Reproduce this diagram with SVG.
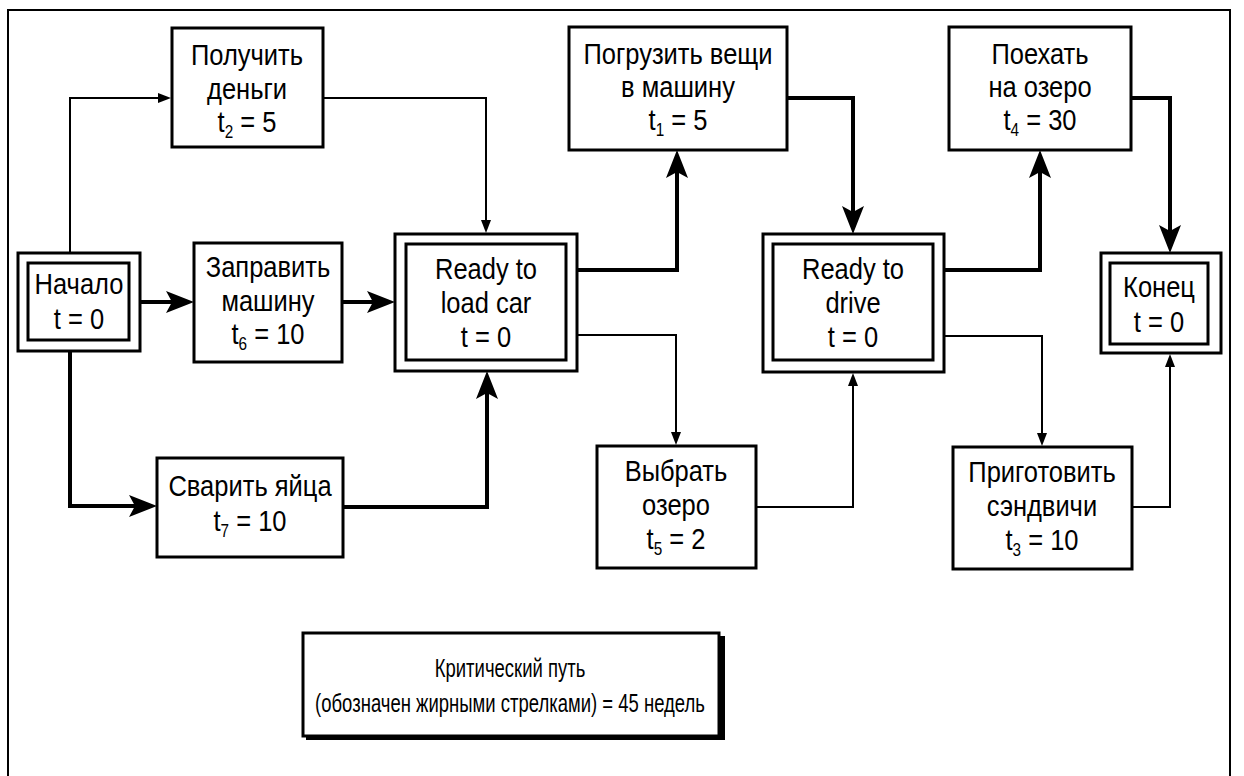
<svg xmlns="http://www.w3.org/2000/svg" width="1244" height="776" viewBox="0 0 1244 776">
  <style>
    .box { fill: #fff; stroke: #000; stroke-width: 3; }
    .frame { fill: none; stroke: #000; stroke-width: 2; }
    .lbl { font-family: "Liberation Sans", "DejaVu Sans", sans-serif; font-size: 30px; fill: #000; text-anchor: middle; }
    .note { font-size: 25px; }
    .sub { font-size: 18px; }
    .thick { fill: none; stroke: #000; stroke-width: 4; }
    .thin { fill: none; stroke: #000; stroke-width: 2; }
  </style>
  <defs>
    <marker id="big" markerUnits="userSpaceOnUse" markerWidth="30" markerHeight="24" refX="20" refY="12" orient="auto">
      <path d="M0,1 L28,12 L0,23 L6,12 z" fill="#000"/>
    </marker>
    <marker id="small" markerUnits="userSpaceOnUse" markerWidth="14" markerHeight="10" refX="7" refY="5" orient="auto">
      <path d="M0,0 L13,5 L0,10 z" fill="#000"/>
    </marker>
  </defs>

  <rect width="1244" height="776" fill="#fff"/>
  <!-- page frame -->
  <rect class="frame" x="8" y="10" width="1222" height="780"/>

  <!-- connectors -->
  <g id="connectors">
    <path class="thin" d="M70,253 V98 H165" marker-end="url(#small)"/>
    <path class="thick" d="M140,302 H186" marker-end="url(#big)"/>
    <path class="thick" d="M70,351 V506 H149" marker-end="url(#big)"/>
    <path class="thick" d="M342,302 H387" marker-end="url(#big)"/>
    <path class="thin" d="M323,98 H486 V227" marker-end="url(#small)"/>
    <path class="thick" d="M343,507 H487 V379" marker-end="url(#big)"/>
    <path class="thick" d="M577,270 H677 V158" marker-end="url(#big)"/>
    <path class="thin" d="M577,335 H676 V439" marker-end="url(#small)"/>
    <path class="thick" d="M787,98 H853 V226" marker-end="url(#big)"/>
    <path class="thin" d="M756,507 H853 V379" marker-end="url(#small)"/>
    <path class="thick" d="M944,270 H1040 V158" marker-end="url(#big)"/>
    <path class="thin" d="M944,336 H1042 V440" marker-end="url(#small)"/>
    <path class="thick" d="M1131,98 H1170 V245" marker-end="url(#big)"/>
    <path class="thin" d="M1132,507 H1170 V360" marker-end="url(#small)"/>
  </g>

  <g id="start">
    <rect class="box" x="18" y="253" width="122" height="98"/>
    <rect class="box" x="28" y="263" width="101" height="77"/>
    <g transform="translate(79 0) scale(0.85 1)">
      <text class="lbl" x="0" y="294">Начало</text>
      <text class="lbl" x="0" y="329">t = 0</text>
    </g>
  </g>

  <g id="get-money">
    <rect class="box" x="172" y="28" width="151" height="119"/>
    <g transform="translate(247 0) scale(0.85 1)">
      <text class="lbl" x="0" y="65">Получить</text>
      <text class="lbl" x="0" y="99">деньги</text>
      <text class="lbl" x="0" y="132">t<tspan class="sub" dy="6">2</tspan><tspan dy="-6"> = 5</tspan></text>
    </g>
  </g>

  <g id="fuel-car">
    <rect class="box" x="194" y="243" width="148" height="119"/>
    <g transform="translate(268 0) scale(0.85 1)">
      <text class="lbl" x="0" y="277">Заправить</text>
      <text class="lbl" x="0" y="311">машину</text>
      <text class="lbl" x="0" y="344">t<tspan class="sub" dy="6">6</tspan><tspan dy="-6"> = 10</tspan></text>
    </g>
  </g>

  <g id="boil-eggs">
    <rect class="box" x="157" y="458" width="186" height="99"/>
    <g transform="translate(250 0) scale(0.85 1)">
      <text class="lbl" x="0" y="496">Сварить яйца</text>
      <text class="lbl" x="0" y="531">t<tspan class="sub" dy="6">7</tspan><tspan dy="-6"> = 10</tspan></text>
    </g>
  </g>

  <g id="ready-load">
    <rect class="box" x="395" y="234" width="182" height="137"/>
    <rect class="box" x="406" y="244" width="160" height="116"/>
    <g transform="translate(486 0) scale(0.85 1)">
      <text class="lbl" x="0" y="279">Ready to</text>
      <text class="lbl" x="0" y="313">load car</text>
      <text class="lbl" x="0" y="347">t = 0</text>
    </g>
  </g>

  <g id="load-car">
    <rect class="box" x="569" y="27" width="218" height="123"/>
    <g transform="translate(678 0) scale(0.85 1)">
      <text class="lbl" x="0" y="64">Погрузить вещи</text>
      <text class="lbl" x="0" y="97">в машину</text>
      <text class="lbl" x="0" y="130">t<tspan class="sub" dy="6">1</tspan><tspan dy="-6"> = 5</tspan></text>
    </g>
  </g>

  <g id="pick-lake">
    <rect class="box" x="597" y="446" width="159" height="122"/>
    <g transform="translate(676 0) scale(0.85 1)">
      <text class="lbl" x="0" y="481">Выбрать</text>
      <text class="lbl" x="0" y="515">озеро</text>
      <text class="lbl" x="0" y="549">t<tspan class="sub" dy="6">5</tspan><tspan dy="-6"> = 2</tspan></text>
    </g>
  </g>

  <g id="ready-drive">
    <rect class="box" x="763" y="234" width="181" height="138"/>
    <rect class="box" x="773" y="244" width="160" height="116"/>
    <g transform="translate(853 0) scale(0.85 1)">
      <text class="lbl" x="0" y="279">Ready to</text>
      <text class="lbl" x="0" y="313">drive</text>
      <text class="lbl" x="0" y="347">t = 0</text>
    </g>
  </g>

  <g id="drive-lake">
    <rect class="box" x="949" y="27" width="182" height="123"/>
    <g transform="translate(1040 0) scale(0.85 1)">
      <text class="lbl" x="0" y="64">Поехать</text>
      <text class="lbl" x="0" y="97">на озеро</text>
      <text class="lbl" x="0" y="130">t<tspan class="sub" dy="6">4</tspan><tspan dy="-6"> = 30</tspan></text>
    </g>
  </g>

  <g id="sandwiches">
    <rect class="box" x="953" y="447" width="179" height="122"/>
    <g transform="translate(1042 0) scale(0.85 1)">
      <text class="lbl" x="0" y="482">Приготовить</text>
      <text class="lbl" x="0" y="516">сэндвичи</text>
      <text class="lbl" x="0" y="550">t<tspan class="sub" dy="6">3</tspan><tspan dy="-6"> = 10</tspan></text>
    </g>
  </g>

  <g id="end">
    <rect class="box" x="1101" y="253" width="120" height="100"/>
    <rect class="box" x="1110" y="263" width="98" height="81"/>
    <g transform="translate(1159 0) scale(0.85 1)">
      <text class="lbl" x="0" y="297">Конец</text>
      <text class="lbl" x="0" y="332">t = 0</text>
    </g>
  </g>

  <g id="summary">
    <rect x="306" y="636" width="419" height="104" fill="#000"/>
    <rect class="box" x="303" y="633" width="416" height="103"/>
    <g transform="translate(510 0) scale(0.74 1)">
      <text class="lbl note" x="0" y="677">Критический путь</text>
      <text class="lbl note" x="0" y="712">(обозначен жирными стрелками) = 45 недель</text>
    </g>
  </g>
</svg>
